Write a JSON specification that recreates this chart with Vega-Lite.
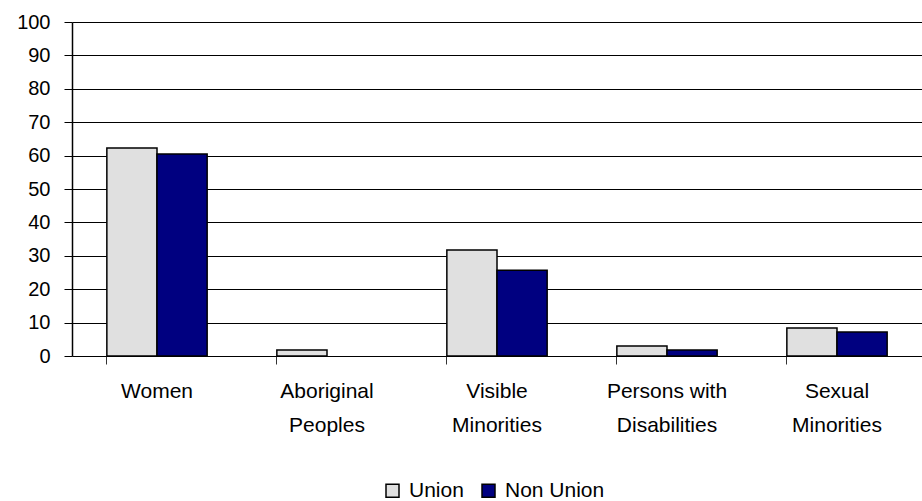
{
  "$schema": "https://vega.github.io/schema/vega-lite/v6.json",
  "autosize": "none",
  "width": 850,
  "height": 334,
  "padding": {"left": 72, "top": 22, "right": 0, "bottom": 145},
  "background": "white",
  "config": {
    "font": "Liberation Sans",
    "view": {"stroke": null}
  },
  "data": {
    "values": [
      {"category": "Women", "group": "Union", "value": 62.3},
      {"category": "Women", "group": "Non Union", "value": 60.5},
      {"category": "Aboriginal Peoples", "group": "Union", "value": 1.8},
      {"category": "Aboriginal Peoples", "group": "Non Union", "value": 0},
      {"category": "Visible Minorities", "group": "Union", "value": 31.7},
      {"category": "Visible Minorities", "group": "Non Union", "value": 25.7},
      {"category": "Persons with Disabilities", "group": "Union", "value": 3.0},
      {"category": "Persons with Disabilities", "group": "Non Union", "value": 1.8},
      {"category": "Sexual Minorities", "group": "Union", "value": 8.4},
      {"category": "Sexual Minorities", "group": "Non Union", "value": 7.2}
    ]
  },
  "mark": {"type": "bar", "stroke": "black", "strokeWidth": 1.5},
  "encoding": {
    "x": {
      "field": "category",
      "type": "nominal",
      "sort": null,
      "scale": {"paddingInner": 0.41, "paddingOuter": 0.205},
      "axis": {
        "title": null,
        "labelAngle": 0,
        "bandPosition": 0,
        "domain": false,
        "ticks": true,
        "tickColor": "#333333",
        "tickSize": 8,
        "labelPadding": 16,
        "labelFontSize": 21,
        "labelColor": "black",
        "labelLineHeight": 34,
        "labelBaseline": "top",
        "labelExpr": "datum.value == 'Persons with Disabilities' ? ['Persons with', 'Disabilities'] : split(datum.value, ' ')"
      }
    },
    "xOffset": {"field": "group", "type": "nominal", "sort": ["Union", "Non Union"], "scale": {"paddingInner": 0, "paddingOuter": 0}},
    "y": {
      "field": "value",
      "type": "quantitative",
      "scale": {"domain": [0, 100]},
      "axis": {
        "title": null,
        "values": [0, 10, 20, 30, 40, 50, 60, 70, 80, 90, 100],
        "grid": true,
        "gridColor": "black",
        "gridWidth": 1,
        "domainColor": "black",
        "domainWidth": 1.5,
        "tickColor": "black",
        "tickSize": 8,
        "labelPadding": 14,
        "labelFontSize": 20,
        "labelColor": "black"
      }
    },
    "opacity": {"condition": {"test": "datum.value == 0", "value": 0}, "value": 1},
    "fill": {
      "field": "group",
      "type": "nominal",
      "sort": ["Union", "Non Union"],
      "scale": {"domain": ["Union", "Non Union"], "range": ["#E0E0E0", "#000080"]},
      "legend": {
        "title": null,
        "orient": "none",
        "direction": "horizontal",
        "legendX": 310,
        "legendY": 458,
        "symbolType": "square",
        "symbolSize": 169,
        "symbolStrokeColor": "black",
        "symbolStrokeWidth": 1.5,
        "symbolOpacity": 1,
        "labelFontSize": 21,
        "labelColor": "black",
        "labelOffset": 6,
        "columnPadding": 14
      }
    }
  }
}
